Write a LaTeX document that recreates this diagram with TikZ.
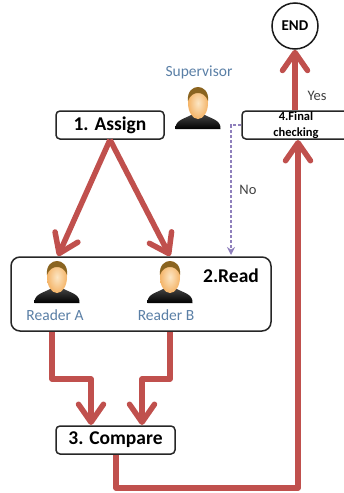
\documentclass[tikz,border=0pt]{standalone}
\usepackage{fontspec}
\setmainfont{Carlito}
\usetikzlibrary{arrows.meta,calc}
\definecolor{flow}{HTML}{C0504D}
\definecolor{lab}{HTML}{5A7FA6}
\definecolor{chk}{HTML}{8F80BC}
\definecolor{facein}{HTML}{FCE6C4}
\definecolor{faceout}{HTML}{F4B468}
\definecolor{hair}{HTML}{8A6420}
\tikzset{
  x=1pt,y=-1pt,
  stepbox/.style={draw=black!85,line width=1.5pt,rounded corners=4pt,fill=white,inner sep=0pt,font=\bfseries\fontsize{19.5}{20}\selectfont},
  flowline/.style={draw=flow,line width=5.5pt,line join=round,-{Straight Barb[length=18pt,width=25pt,line width=5.5pt,round]}},
  who/.style={text=lab,font=\fontsize{15.5}{17}\selectfont,inner sep=0pt},
  tag/.style={text=black!75,font=\fontsize{14.5}{16}\selectfont,inner sep=0pt},
  person/.pic={
    \shade[top color=black!75,bottom color=black] (-22.5,21) .. controls (-23,12) and (-14,11) .. (-7,7) -- (7,7) .. controls (14,11) and (23,12) .. (22.5,21) -- cycle;
    \shade[inner color=facein,outer color=faceout] (0,-5) ellipse (10 and 16);
    \fill[hair] (-10,-7) .. controls (-11,-17) and (-5,-21) .. (0,-21) .. controls (5,-21) and (11,-17) .. (10,-7) .. controls (8,-13) and (4,-15) .. (0,-15) .. controls (-4,-15) and (-8,-13) .. (-10,-7) -- cycle;
  }
}
\begin{document}
\begin{tikzpicture}
\useasboundingbox (0,0) rectangle (344,493);
\node[stepbox,minimum width=108pt,minimum height=28pt] (assign) at (110,125) {1. Assign};
\node[stepbox,minimum width=260pt,minimum height=74pt,rounded corners=9pt] (read) at (141,294) {};
\node[inner sep=0pt,font=\bfseries\fontsize{19.5}{20}\selectfont] (readlabel) at (231,276) {2.Read};
\node[stepbox,minimum width=119pt,minimum height=28pt] (compare) at (115.5,440) {3. Compare};
\node[stepbox,minimum width=108pt,minimum height=28pt] (final) at (296,125) {};
\node[inner sep=0pt,align=center,font=\bfseries\fontsize{12.5}{16}\selectfont] (finallabel) at (296,125) {4.Final\\checking};
\node[draw=black!90,line width=1.5pt,circle,minimum size=46pt,inner sep=0pt,font=\bfseries\fontsize{15}{16}\selectfont] (endn) at (295,26) {END};
\node[who] (sup) at (199,72) {Supervisor};
\node[who] (ra) at (55,315) {Reader A};
\node[who] (rb) at (166,315) {Reader B};
\node[tag] (yes) at (317,96) {Yes};
\node[tag] (no) at (248,190) {No};
\pic at (198,108) {person};
\pic at (57,282) {person};
\pic at (170,282) {person};
\coordinate (a1) at (58,256);
\coordinate (a2) at (170,256);
\coordinate (af) at (298,140);
\draw[flowline] (assign.south) -- (a1);
\draw[flowline] (assign.south) -- (a2);
\coordinate (r1) at (52,332);
\coordinate (r2) at (170,332);
\coordinate (c1) at (91,425);
\coordinate (c2) at (142,425);
\coordinate (cs) at (116,455);
\draw[flowline] (r1) -- (52,379) -- (91,379) -- (c1);
\draw[flowline] (r2) -- (170,379) -- (142,379) -- (c2);
\draw[flowline] (cs) -- (116,488) -- (298,488) -- (af);
\draw[flowline] (final.north -| endn) -- (endn.south);
\draw[chk,line width=2pt,densely dashed,-{Stealth[length=8pt,width=8pt]}] (final.west) -- (231,125) -- (231,255);
\end{tikzpicture}
\end{document}
